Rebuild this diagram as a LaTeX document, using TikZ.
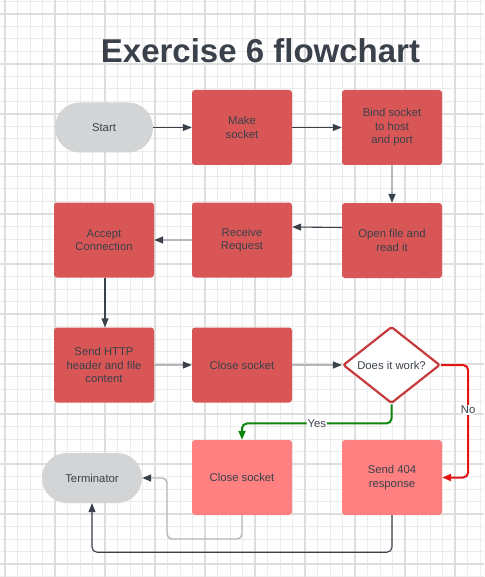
\documentclass[tikz,border=0pt]{standalone}
\usepackage{fontspec}
\setmainfont{Liberation Sans}
\usetikzlibrary{arrows.meta,shapes.geometric}
\definecolor{ink}{RGB}{58,65,74}
\definecolor{boxred}{RGB}{217,86,86}
\definecolor{boxpink}{RGB}{255,128,128}
\definecolor{termgray}{RGB}{211,212,214}
\definecolor{linegray}{RGB}{180,183,188}
\definecolor{diared}{RGB}{198,60,62}
\definecolor{yesgreen}{RGB}{12,135,12}
\definecolor{nored}{RGB}{226,20,20}
\definecolor{gridminor}{RGB}{236,236,236}
\definecolor{gridmajor}{RGB}{222,222,222}
\begin{document}
\begin{tikzpicture}[x=1pt,y=-1pt,
    txt/.style={text=ink,align=center,font=\fontsize{11.3}{13.5}\selectfont},
    proc/.style={txt,rectangle,fill=boxred,rounded corners=3pt,minimum width=100pt,minimum height=75pt,inner sep=1pt},
    endproc/.style={proc,fill=boxpink},
    term/.style={txt,rectangle,fill=termgray,rounded corners=24.9pt,minimum width=100pt,minimum height=50pt},
    test/.style={txt,diamond,draw=diared,line width=2.2pt,fill=white,rounded corners=2pt,minimum width=97pt,minimum height=74pt,inner sep=0pt},
    dk/.style={ink,line width=1.1pt,-{Triangle[length=9pt,width=7pt]}},
    lt/.style={linegray,line width=1.4pt,-{Triangle[length=9pt,width=7pt,color=ink]}},
    lbl/.style={txt,fill=white,inner sep=1pt}]
    \useasboundingbox[fill=white] (0,0) rectangle (484,577);
    % grid
    \foreach \x in {5,17.5,...,484}{
    \draw[gridminor,line width=1pt] (\x,0) -- (\x,577);
    }
    \foreach \y in {1.5,14,...,577}{
    \draw[gridminor,line width=1pt] (0,\y) -- (484,\y);
    }
    \foreach \x in {5,55,...,455}{
    \draw[gridmajor,line width=1.6pt] (\x,0) -- (\x,577);
    }
    \foreach \y in {14,64,...,564}{
    \draw[gridmajor,line width=1.6pt] (0,\y) -- (484,\y);
    }
    \node[anchor=base,text=ink,font=\fontsize{33}{40}\bfseries\selectfont] (title) at (260.5,63) {Exercise 6 flowchart};
    % row 1
    \node[term,minimum width=98pt] (start) at (104,127.5) {Start};
    \node[proc] (make) at (242,127.5) {Make\\socket};
    \node[proc] (bind) at (392,127.5) {Bind socket\\to host\\and port};
    % row 2
    \node[proc] (accept) at (104,240) {Accept\\Connection};
    \node[proc] (receive) at (242,240) {Receive\\Request};
    \node[proc] (open) at (392,240.5) {Open file and\\read it};
    % row 3
    \node[proc] (send) at (104,365) {Send HTTP\\header and file\\content};
    \node[proc] (close) at (242,365) {Close socket};
    \node[test] (check) at (391.5,365) {Does it work?};
    % row 4
    \node[term] (terminator) at (92,478) {Terminator};
    \node[endproc] (close2) at (242,477.5) {Close socket};
    \node[endproc] (notfound) at (392,477.5) {Send 404\\response};
    \coordinate (back) at (167,539);

    \draw[dk] (start) -- (make);
    \draw[dk] (make) -- (bind);
    \draw[lt] (bind) -- (open);
    \draw[dk] ([yshift=13pt]open.west) -- ([yshift=13pt]receive.east);
    \draw[lt] (receive) -- (accept);
    \draw[dk] (accept.south -| 105,0) -- (send.north -| 105,0);
    \draw[lt] (send) -- (close);
    \draw[lt] (close) -- (check);
    \draw[yesgreen,line width=2pt,rounded corners=5pt,-{Triangle[length=9pt,width=7pt]}] (check.south) -- ++(0,19) -| node[lbl,pos=0.25] {Yes} (close2.north);
    \draw[nored,line width=2pt,rounded corners=5pt,-{Triangle[length=9pt,width=7pt]}] (check.east) -- ++(27,0) |- node[lbl,pos=0.2] {No} (notfound.east);
    \draw[lt,rounded corners=5pt] (close2.south) |- (back) |- (terminator.east);
    \draw[dk,rounded corners=5pt] (notfound.south) -- ++(0,37) -| (terminator.south);
\end{tikzpicture}
\end{document}
